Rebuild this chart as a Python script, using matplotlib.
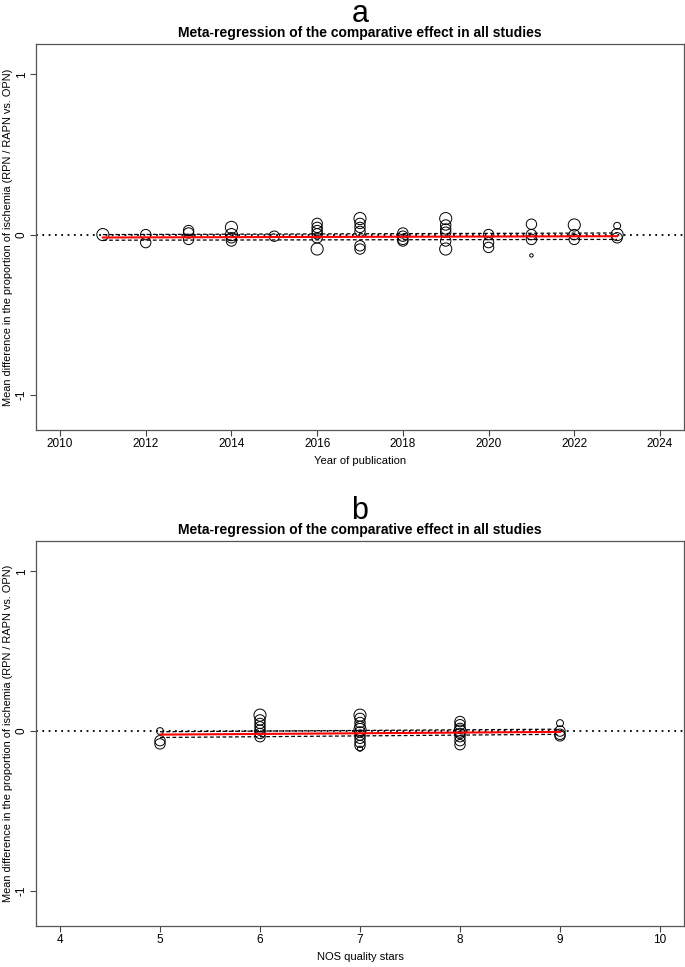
import matplotlib
matplotlib.use("Agg")
import matplotlib.pyplot as plt
import numpy as np

plt.rcParams['font.family'] = ['Liberation Sans', 'DejaVu Sans']

# ---- Panel a data: year of publication ----
year_x = [2011, 2012, 2012, 2013, 2013, 2013, 2014, 2014, 2014, 2014,
          2015, 2016, 2016, 2016, 2016, 2016, 2016,
          2017, 2017, 2017, 2017, 2017, 2017,
          2018, 2018, 2018, 2018,
          2019, 2019, 2019, 2019, 2019, 2019,
          2020, 2020, 2020,
          2021, 2021, 2021, 2021,
          2022, 2022, 2022, 2023, 2023, 2023]
year_y = [0.00, 0.00, -0.05, 0.025, 0.01, -0.03, 0.045, 0.00, -0.02, -0.04,
          -0.01, 0.07, 0.045, 0.025, 0.005, -0.02, -0.09,
          0.10, 0.07, 0.045, 0.02, -0.07, -0.09,
          0.01, -0.01, -0.03, -0.04,
          0.10, 0.06, 0.035, 0.015, -0.04, -0.09,
          0.00, -0.05, -0.08,
          0.065, 0.00, -0.03, -0.13,
          0.06, 0.00, -0.03, 0.055, 0.00, -0.02]
year_w = [7, 6, 6, 6, 6, 6, 7, 7, 6, 6,
          6, 6, 6, 6, 6, 6, 7,
          7, 6, 6, 6, 6, 6,
          6, 6, 6, 6,
          7, 6, 6, 6, 6, 7,
          6, 6, 6,
          6, 6, 6, 2,
          7, 6, 6, 4, 7, 6]
year_fit = [2011, 2023]
year_pred = [-0.018, -0.010]
year_ci_lo = [-0.035, -0.030]
year_ci_hi = [0.000, 0.010]

# ---- Panel b data: NOS quality stars ----
nos_x = [5, 5, 5,
         6, 6, 6, 6, 6, 6, 6,
         7, 7, 7, 7, 7, 7, 7, 7, 7, 7, 7,
         8, 8, 8, 8, 8, 8, 8, 8,
         9, 9, 9, 9]
nos_y = [0.00, -0.06, -0.08,
         0.10, 0.07, 0.048, 0.027, 0.006, -0.015, -0.035,
         0.10, 0.08, 0.054, 0.03, 0.01, -0.005, -0.025, -0.045, -0.07, -0.09, -0.11,
         0.06, 0.04, 0.017, 0.00, -0.015, -0.035, -0.06, -0.085,
         0.05, 0.00, -0.02, -0.03]
nos_w = [4, 6, 6,
         7, 6, 6, 6, 6, 6, 6,
         7, 6, 6, 6, 7, 6, 6, 6, 6, 6, 3,
         6, 6, 6, 7, 6, 6, 6, 6,
         4, 6, 6, 6]
nos_fit = [5, 9]
nos_pred = [-0.022, -0.005]
nos_ci_lo = [-0.040, -0.020]
nos_ci_hi = [-0.004, 0.012]

W, H = 685, 967
fig = plt.figure(figsize=(W / 100, H / 100), dpi=100)

def panel(top, bottom, letter, x, y, w, fx, fp, flo, fhi, xlim, xticks, xlabel):
    rect = [36 / W, 1 - bottom / H, (684 - 36) / W, (bottom - top) / H]
    ax = fig.add_axes(rect)
    ax.set_xlim(*xlim)
    ax.set_ylim(-1.22, 1.19)
    ax.axhline(0, color='black', linestyle=(0, (1, 2.5)), linewidth=1.3, zorder=1)
    ax.scatter(x, y, s=np.array(w, float) ** 2 * 1.55, facecolors='none',
               edgecolors='black', linewidths=0.7, zorder=3)
    ax.plot(fx, fp, color='red', linewidth=1.5, zorder=4)
    ax.plot(fx, flo, color='black', linestyle=(0, (3, 2)), linewidth=0.9, zorder=4)
    ax.plot(fx, fhi, color='black', linestyle=(0, (3, 2)), linewidth=0.9, zorder=4)
    ax.set_xticks(xticks)
    ax.set_yticks([-1, 0, 1])
    ax.set_yticklabels(['-1', '0', '1'], rotation=90, va='center')
    ax.tick_params(labelsize=8.5, length=4, width=0.8, color='#444444', pad=2)
    for sp in ax.spines.values():
        sp.set_color('#555555')
        sp.set_linewidth(0.9)
    ax.set_xlabel(xlabel, fontsize=8, labelpad=4)
    ax.set_ylabel('Mean difference in the proportion of ischemia (RPN / RAPN vs. OPN)',
                  fontsize=7.9)
    ax.yaxis.set_label_coords(-23 / 648, 0.5)
    ax.set_title('Meta-regression of the comparative effect in all studies',
                 fontsize=10, fontweight='bold', pad=5)
    fig.text(0.5 * (36 + 684) / W, 1 - (top - 30) / H, letter, ha='center',
             va='center', fontsize=22)
    return ax

panel(44, 430, 'a', year_x, year_y, year_w,
      year_fit, year_pred, year_ci_lo, year_ci_hi,
      (2009.44, 2024.56), [2010, 2012, 2014, 2016, 2018, 2020, 2022, 2024],
      'Year of publication')
panel(541, 926, 'b', nos_x, nos_y, nos_w,
      nos_fit, nos_pred, nos_ci_lo, nos_ci_hi,
      (3.76, 10.24), [4, 5, 6, 7, 8, 9, 10],
      'NOS quality stars')

fig.savefig('out.png', dpi=100)
